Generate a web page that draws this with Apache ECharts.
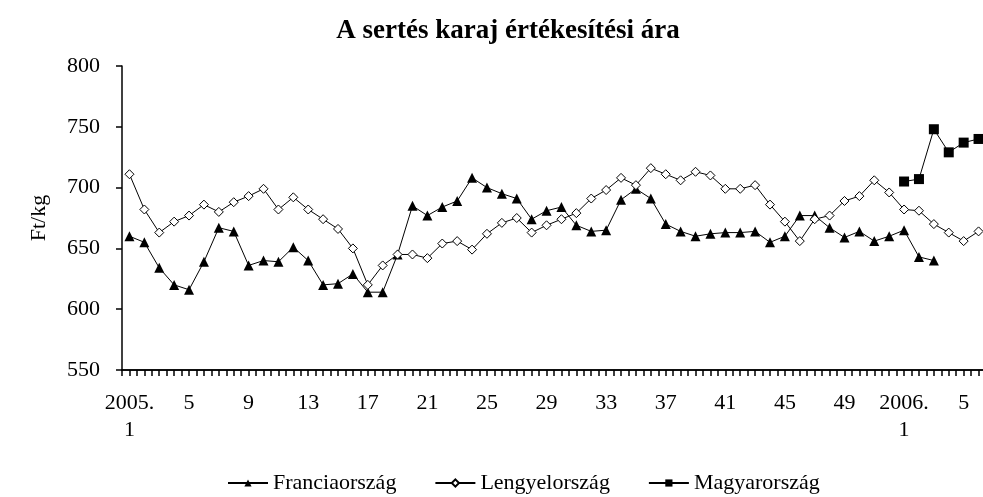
<!DOCTYPE html>
<html>
<head>
<meta charset="utf-8">
<title>A sertés karaj értékesítési ára</title>
<script src="https://cdn.jsdelivr.net/npm/echarts@6/dist/echarts.min.js"></script>
<style>
  html, body { margin: 0; padding: 0; background: #fff; }
  #chart { width: 983px; height: 497px; }
</style>
</head>
<body>
<div id="chart"></div>
<script>
// hetek: 2005. 1-52, 2006. 1-6
const weeks = ['2005.\n1', '2', '3', '4', '5', '6', '7', '8', '9', '10', '11', '12', '13', '14', '15', '16', '17', '18', '19', '20',
  '21', '22', '23', '24', '25', '26', '27', '28', '29', '30', '31', '32', '33', '34', '35', '36', '37', '38', '39', '40',
  '41', '42', '43', '44', '45', '46', '47', '48', '49', '50', '51', '52', '2006.\n1', '2', '3', '4', '5', '6'];

// Ft/kg
const francia = [660, 655, 634, 620, 616, 639, 667, 664, 636, 640, 639, 651, 640, 620, 621, 629, 614, 614, 645, 685,
  677, 684, 689, 708, 700, 695, 691, 674, 681, 684, 669, 664, 665, 690, 699, 691, 670, 664, 660, 662,
  663, 663, 664, 655, 660, 677, 677, 667, 659, 664, 656, 660, 665, 643, 640, null, null, null];
const lengyel = [711, 682, 663, 672, 677, 686, 680, 688, 693, 699, 682, 692, 682, 674, 666, 650, 620, 636, 645, 645,
  642, 654, 656, 649, 662, 671, 675, 663, 669, 674, 679, 691, 698, 708, 702, 716, 711, 706, 713, 710,
  699, 699, 702, 686, 672, 656, 674, 677, 689, 693, 706, 696, 682, 681, 670, 663, 656, 664];
const magyar = [null, null, null, null, null, null, null, null, null, null, null, null, null, null, null, null, null, null, null, null,
  null, null, null, null, null, null, null, null, null, null, null, null, null, null, null, null, null, null, null, null,
  null, null, null, null, null, null, null, null, null, null, null, null, 705, 707, 748, 729, 737, 740];

const yTicks = [550, 600, 650, 700, 750, 800];

const font = "'Liberation Serif', 'Times New Roman', serif";

const chart = echarts.init(document.getElementById('chart'));
chart.setOption({
  animation: false,
  backgroundColor: '#fff',
  title: {
    text: 'A sertés karaj értékesítési ára',
    left: 503,
    top: 13,
    textAlign: 'center',
    textStyle: { fontFamily: font, fontSize: 27, fontWeight: 'bold', color: '#000' }
  },
  legend: {
    left: 222,
    top: 467,
    itemWidth: 40,
    itemHeight: 9,
    itemGap: 38,
    textStyle: { fontFamily: font, fontSize: 22, color: '#000' },
    data: ['Franciaország', 'Lengyelország', 'Magyarország']
  },
  grid: { left: 122, top: 66, width: 864, height: 304, outerBoundsMode: 'none' },
  xAxis: [
    {
      type: 'category',
      data: weeks,
      boundaryGap: true,
      position: 'bottom',
      splitLine: { show: false },
      axisLine: { show: true, lineStyle: { color: '#000', width: 1.5 } },
      axisTick: { show: true, interval: 0, alignWithLabel: false, length: 6, lineStyle: { color: '#000', width: 1.5 } },
      axisLabel: {
        interval: 3,
        margin: 20,
        fontFamily: font,
        fontSize: 22,
        lineHeight: 27,
        color: '#000'
      }
    },
    {
      // tickek a hetek közepén is
      type: 'category',
      data: weeks,
      boundaryGap: true,
      position: 'bottom',
      offset: 0,
      axisLine: { show: true, lineStyle: { color: '#000', width: 1.5 } },
      axisLabel: { show: false },
      splitLine: { show: false },
      axisTick: { show: true, interval: 0, alignWithLabel: true, length: 6, lineStyle: { color: '#000', width: 1.5 } }
    }
  ],
  yAxis: {
    type: 'value',
    min: yTicks[0],
    max: yTicks[yTicks.length - 1],
    interval: 50,
    name: 'Ft/kg',
    nameLocation: 'middle',
    nameGap: 72,
    nameTextStyle: { fontFamily: font, fontSize: 22, color: '#000' },
    splitLine: { show: false },
    axisLine: { show: true, lineStyle: { color: '#000', width: 1.5 } },
    axisTick: { show: true, length: 6, lineStyle: { color: '#000', width: 1.5 } },
    axisLabel: { margin: 22, fontFamily: font, fontSize: 22, color: '#000' }
  },
  series: [
    {
      name: 'Franciaország',
      type: 'line',
      data: francia,
      symbol: 'triangle',
      symbolSize: 10,
      showAllSymbol: true,
      lineStyle: { color: '#000', width: 1 },
      itemStyle: { color: '#000', borderColor: '#000', borderWidth: 0 }
    },
    {
      name: 'Lengyelország',
      type: 'line',
      data: lengyel,
      symbol: 'diamond',
      symbolSize: 9,
      showAllSymbol: true,
      lineStyle: { color: '#000', width: 1 },
      itemStyle: { color: '#fff', borderColor: '#000', borderWidth: 1 }
    },
    {
      name: 'Magyarország',
      type: 'line',
      data: magyar,
      symbol: 'rect',
      symbolSize: 10,
      showAllSymbol: true,
      lineStyle: { color: '#000', width: 1 },
      itemStyle: { color: '#000', borderColor: '#000', borderWidth: 0 }
    }
  ]
});
</script>
</body>
</html>
